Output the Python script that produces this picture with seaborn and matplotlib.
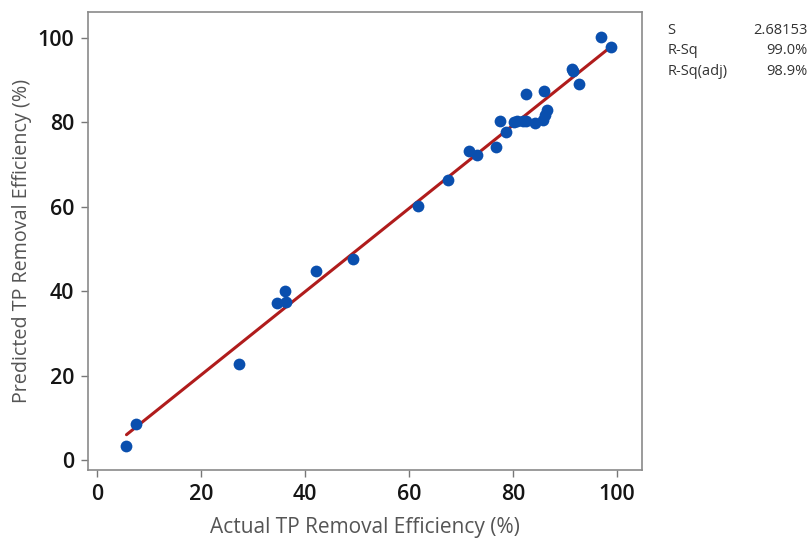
import matplotlib
matplotlib.use("Agg")
import matplotlib.pyplot as plt
import seaborn as sns
import pandas as pd

# Data
actual = [5.7, 7.6, 27.3, 34.7, 36.2, 36.3, 42.2, 49.3, 61.7, 67.5, 71.6, 73.1,
          76.7, 77.6, 78.6, 80.1, 80.7, 81.9, 82.5, 82.5, 84.2, 85.8, 86.0, 86.2,
          86.6, 91.4, 91.6, 92.7, 96.9, 98.9]
predicted = [3.3, 8.5, 22.7, 37.3, 40.1, 37.5, 44.8, 47.6, 60.2, 66.4, 73.2, 72.4,
             74.2, 80.4, 77.8, 80.2, 80.3, 80.3, 80.3, 86.7, 79.9, 80.6, 87.5, 81.8,
             82.9, 92.8, 92.3, 89.2, 100.2, 97.9]
stat_names = ["S", "R-Sq", "R-Sq(adj)"]
stat_values = ["2.68153", "99.0%", "98.9%"]
x_ticks = [0, 20, 40, 60, 80, 100]
y_ticks = [0, 20, 40, 60, 80, 100]

df = pd.DataFrame({"Actual": actual, "Predicted": predicted})

sns.set_style("white")
plt.rcParams["font.family"] = ["Open Sans", "DejaVu Sans"]

fig = plt.figure(figsize=(8.11, 5.38), dpi=100)
ax = fig.add_axes([0.1085, 0.1264, 0.6831, 0.8513])

sns.regplot(data=df, x="Actual", y="Predicted", ax=ax, ci=None,
            scatter_kws=dict(s=72, color="#0a4fae", alpha=1, linewidths=0, zorder=3),
            line_kws=dict(color="#b01c1c", lw=2.2, zorder=2))

ax.set_xlim(-1.7, 104.8)
ax.set_ylim(-2.4, 106.2)
ax.set_xticks(x_ticks)
ax.set_yticks(y_ticks)
ax.tick_params(axis="both", which="major", length=5, width=1, color="#777777",
               labelsize=15.5, labelcolor="#151515", direction="out", pad=5,
               bottom=True, left=True)
for lab in ax.get_xticklabels() + ax.get_yticklabels():
    lab.set_fontweight("semibold")
for sp in ax.spines.values():
    sp.set_color("#8a8a8a")
    sp.set_linewidth(1.2)

ax.set_xlabel("Actual TP Removal Efficiency (%)", fontsize=15, color="#555555", labelpad=9)
ax.set_ylabel("Predicted TP Removal Efficiency (%)", fontsize=14.2, color="#555555", labelpad=4)

ys = [0.944, 0.906, 0.868]
for name, val, yy in zip(stat_names, stat_values, ys):
    fig.text(0.823, yy, name, fontsize=10.5, color="#333333", va="center", ha="left")
    fig.text(0.996, yy, val, fontsize=10.5, color="#333333", va="center", ha="right")

fig.savefig("out.png", dpi=100)
